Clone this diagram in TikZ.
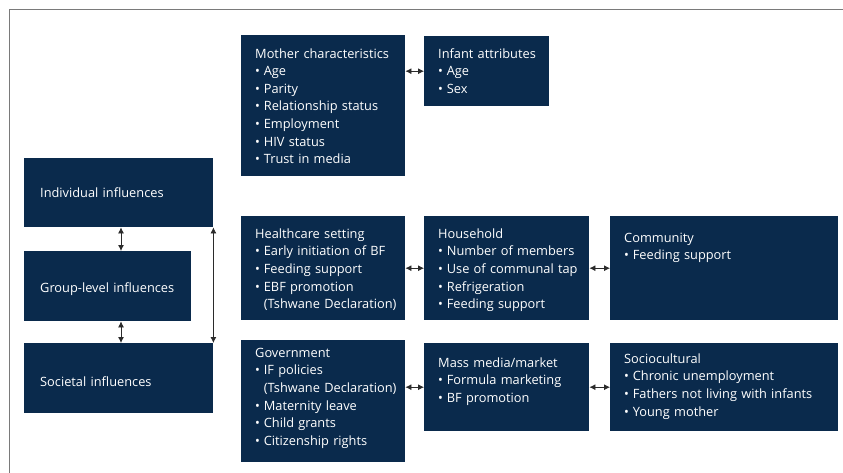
\documentclass[tikz,border=0pt]{standalone}
\usepackage{fontspec}
\setmainfont{Open Sans}
\usepackage{xcolor}
\usepackage{tikz}
\usetikzlibrary{arrows.meta,positioning}

\definecolor{navy}{HTML}{0A2A4C}
\definecolor{framegray}{HTML}{7A7A7A}
\definecolor{arrowgray}{HTML}{2B2B2B}
\newcommand{\bul}{•\hspace{0.3em}}

\begin{document}
\begin{tikzpicture}[
  x=1pt, y=-1pt,
  level/.style={fill=navy, text=white, anchor=north west, align=left, inner xsep=16pt, inner ysep=0pt, font=\fontsize{12.8}{17.6}\selectfont},
  fact/.style={fill=navy, text=white, anchor=north west, align=left, inner xsep=14pt, inner ysep=0pt, font=\fontsize{12.8}{17.6}\selectfont},
  link/.style={{Latex[length=6pt,width=6pt]}-{Latex[length=6pt,width=6pt]}, draw=arrowgray, line width=0.8pt},
  frame/.style={draw=framegray, line width=1pt}
]
\useasboundingbox (0,0) rectangle (843,473);
\draw[frame] (9,473) -- (9,10) -- (843,10);

% levels of influence
\node[level, text width=157pt, minimum height=69pt] (indiv) at (24,158) {\mbox{Individual influences}};
\node[level, text width=135pt, minimum height=70pt, text height=13pt, text depth=0pt] (group) at (24,251) {\mbox{Group-level influences}};
\node[level, text width=157pt, minimum height=70pt, text height=16pt, text depth=0pt] (soc) at (24,343) {\mbox{Societal influences}};

% individual
\node[fact, text width=136pt, text height=23pt, text depth=118pt] (mother) at (241,35)
  {\begin{tabular}[t]{@{}l@{}}Mother characteristics\\\bul Age\\\bul Parity\\\bul Relationship status\\\bul Employment\\\bul HIV status\\\bul Trust in media\end{tabular}};
\node[fact, text width=97pt, text height=22pt, text depth=48pt] (infant) at (424,36)
  {\begin{tabular}[t]{@{}l@{}}Infant attributes\\\bul Age\\\bul Sex\end{tabular}};

% group level
\node[fact, text width=136pt, text height=22pt, text depth=82pt] (health) at (241,216)
  {\begin{tabular}[t]{@{}l@{}}Healthcare setting\\\bul Early initiation of BF\\\bul Feeding support\\\bul EBF promotion\\\phantom{\bul}(Tshwane Declaration)\end{tabular}};
\node[fact, text width=137pt, text height=22pt, text depth=82pt] (house) at (424,216)
  {\begin{tabular}[t]{@{}l@{}}Household\\\bul Number of members\\\bul Use of communal tap\\\bul Refrigeration\\\bul Feeding support\end{tabular}};
\node[fact, text width=200pt, text height=26pt, text depth=78pt] (comm) at (610,216)
  {\begin{tabular}[t]{@{}l@{}}Community\\\bul Feeding support\end{tabular}};

% societal
\node[fact, text width=136pt, text height=17pt, text depth=105pt] (gov) at (241,340)
  {\begin{tabular}[t]{@{}l@{}}Government\\\bul IF policies\\\phantom{\bul}(Tshwane Declaration)\\\bul Maternity leave\\\bul Child grants\\\bul Citizenship rights\end{tabular}};
\node[fact, text width=137pt, text height=24pt, text depth=64pt] (mass) at (424,343)
  {\begin{tabular}[t]{@{}l@{}}Mass media/market\\\bul Formula marketing\\\bul BF promotion\end{tabular}};
\node[fact, text width=200pt, text height=20pt, text depth=68pt] (socio) at (610,343)
  {\begin{tabular}[t]{@{}l@{}}Sociocultural\\\bul Chronic unemployment\\\bul Fathers not living with infants\\\bul Young mother\end{tabular}};

\coordinate (spine) at (121,0);
\draw[link] (spine |- indiv.south) -- (spine |- group.north);
\draw[link] (spine |- group.south) -- (spine |- soc.north);
\draw[link] (indiv.south east) -- (soc.north east);

\draw[link] (infant.west -| mother.east) -- (infant.west);
\draw[link] (house.west -| health.east) -- (house.west);
\draw[link] (house.east) -- (house.east -| comm.west);
\draw[link] (mass.west -| gov.east) -- (mass.west);
\draw[link] (mass.east) -- (mass.east -| socio.west);
\end{tikzpicture}
\end{document}
